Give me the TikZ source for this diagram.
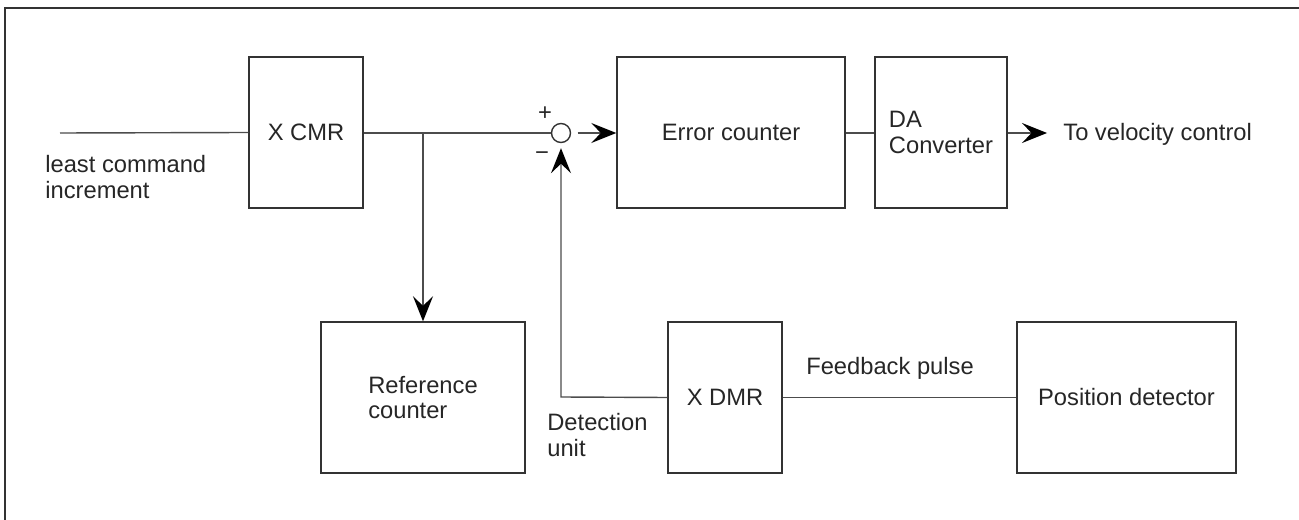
\documentclass[tikz,border=0pt]{standalone}
\usepackage{fontspec}
\setmainfont{Liberation Sans}
\usetikzlibrary{arrows.meta,positioning}

\begin{document}
\begin{tikzpicture}[
  blk/.style={draw=black!80,line width=0.8pt,minimum height=3.02cm,align=left,inner sep=0pt,font=\fontsize{13.5}{14.5}\selectfont,text=black!85},
  lbl/.style={align=left,inner sep=0pt,font=\fontsize{13.5}{14.5}\selectfont,text=black!85},
  wire/.style={draw=black!70,line width=0.8pt},
  tip/.style={-{Stealth[length=5mm,width=4mm,inset=1.9mm,black]}}]
\useasboundingbox (0,0) rectangle (25.98,-10.4);
\draw[black!80,line width=1.1pt] (0.1,-10.4)--(0.1,-0.16)--(25.98,-0.16);
% upper row
\node[blk,minimum width=2.28cm] (xcmr) at (6.12,-2.65) {X CMR};
\node[draw=black!80,line width=0.8pt,circle,minimum size=0.38cm,inner sep=0pt] (sum) at (11.22,-2.66) {};
\node[blk,minimum width=4.56cm] (err) at (14.62,-2.65) {Error counter};
\node[blk,minimum width=2.64cm] (dac) at (18.82,-2.65) {DA\\Converter};
% lower row
\node[blk,minimum width=4.08cm] (ref) at (8.46,-7.95) {Reference\\counter};
\node[blk,minimum width=2.28cm] (xdmr) at (14.5,-7.95) {X DMR};
\node[blk,minimum width=4.38cm] (pos) at (22.53,-7.95) {Position detector};
% free ends and texts
\coordinate (in) at (1.2,-2.66);
\coordinate (br) at (8.46,-2.66);
\coordinate (fb) at (11.22,-7.94);
\coordinate (out) at (20.94,-2.66);
\node[lbl,anchor=north west] (intxt) at (0.9,-3.1) {least command\\increment};
\node[lbl,anchor=west] (outtxt) at (21.26,-2.68) {To velocity control};
\node[lbl] (plus) at (10.9,-2.27) {+};
\node[lbl] (minus) at (10.84,-3.12) {\textminus};
\node[lbl] (fbtxt) at (17.8,-7.36) {Feedback pulse};
\node[lbl,anchor=north west] (dettxt) at (10.94,-8.26) {Detection\\unit};
% connectors
\draw[wire] (in)--(xcmr.west);
\draw[wire] (xcmr.east|-sum)--(sum.west);
\draw[wire,tip] (br)--(ref.north);
\draw[wire,tip,shorten <=0.13cm] (sum.east)--(err.west|-sum);
\draw[wire] (err.east|-sum)--(dac.west|-sum);
\draw[wire,tip] (dac.east|-sum)--(out);
\draw[wire] (pos.west)--(xdmr.east);
\draw[wire,tip,shorten >=0.1cm] (xdmr.west)--(fb)--(sum.south);
\end{tikzpicture}
\end{document}
